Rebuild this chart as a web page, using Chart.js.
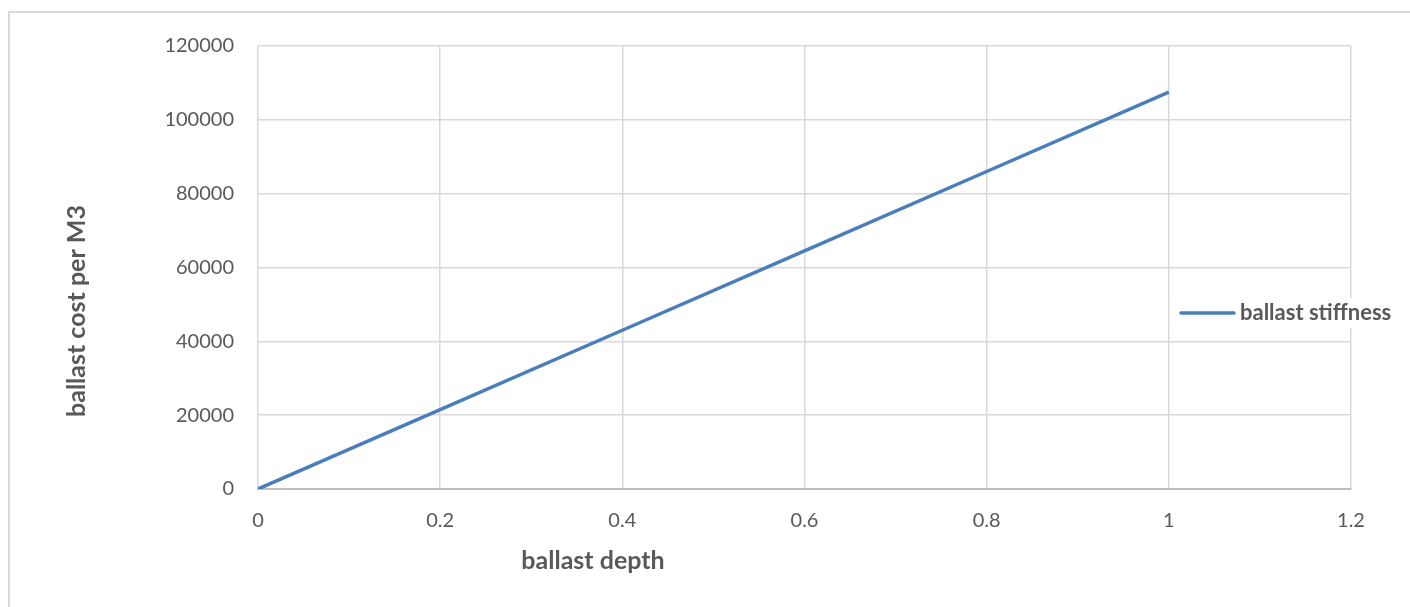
<!DOCTYPE html>
<html>
<head>
<meta charset="utf-8">
<script src="https://cdn.jsdelivr.net/npm/chart.js@4.4.1/dist/chart.umd.min.js"></script>
<style>
  html, body { margin: 0; padding: 0; background: #fff; }
  #wrap { position: relative; width: 1410px; height: 607px; }
</style>
</head>
<body>
<div id="wrap"><canvas id="chart" width="1410" height="607"></canvas></div>
<script>
(function () {
  'use strict';

  // --- Data ---
  var depth = [0, 0.2, 0.4, 0.6, 0.8, 1];
  var cost = [0, 21500, 43000, 64500, 86000, 107500];
  var seriesName = 'ballast stiffness';
  var xTitle = 'ballast depth';
  var yTitle = 'ballast cost per M3';

  var FONT = 'Lato, "Open Sans", sans-serif';
  var TEXT = '#595959';
  var GRID = '#d9d9d9';
  var LINE = '#4a7ebb';

  var points = depth.map(function (d, i) { return { x: d, y: cost[i] }; });

  // frame, axis titles and legend, drawn the way the spreadsheet places them
  var decor = {
    id: 'decor',
    beforeDraw: function (chart) {
      var c = chart.ctx;
      c.save();
      c.fillStyle = '#fff';
      c.fillRect(0, 0, chart.width, chart.height);
      c.strokeStyle = GRID;
      c.lineWidth = 2;
      c.beginPath();
      c.moveTo(9, chart.height);
      c.lineTo(9, 12);
      c.lineTo(chart.width, 12);
      c.stroke();
      c.restore();
    },
    afterDraw: function (chart) {
      var c = chart.ctx;
      c.save();
      c.fillStyle = TEXT;
      c.font = 'bold 25px ' + FONT;
      c.textAlign = 'center';
      c.textBaseline = 'middle';
      c.fillText(xTitle, 593, 561);

      c.save();
      c.translate(77, 311);
      c.rotate(-Math.PI / 2);
      c.fillText(yTitle, 0, 0);
      c.restore();

      // legend
      c.fillStyle = '#fff';
      c.fillRect(1176, 298, 228, 30);
      c.strokeStyle = LINE;
      c.lineWidth = 3.5;
      c.lineCap = 'round';
      c.beginPath();
      c.moveTo(1181, 313);
      c.lineTo(1234, 313);
      c.stroke();
      c.fillStyle = TEXT;
      c.font = 'bold 22px ' + FONT;
      c.textAlign = 'left';
      c.fillText(seriesName, 1240, 313);
      c.restore();
    }
  };

  new Chart(document.getElementById('chart'), {
    type: 'scatter',
    data: {
      datasets: [{
        label: seriesName,
        data: points,
        showLine: true,
        borderColor: LINE,
        backgroundColor: LINE,
        borderWidth: 3.5,
        pointRadius: 0,
        tension: 0
      }]
    },
    options: {
      responsive: false,
      animation: false,
      layout: { padding: { left: 0, right: 59, top: 46, bottom: 0 } },
      plugins: {
        legend: { display: false },
        tooltip: { enabled: false }
      },
      scales: {
        x: {
          type: 'linear',
          min: 0,
          max: 1.2,
          afterFit: function (s) { s.height = 118; },
          grid: { color: GRID, lineWidth: 1.5, drawTicks: false },
          border: { color: '#bfbfbf', width: 2 },
          ticks: {
            stepSize: 0.2,
            padding: 20,
            color: TEXT,
            font: { family: FONT, size: 20 },
            callback: function (v) { return String(Math.round(v * 10) / 10); }
          }
        },
        y: {
          min: 0,
          max: 120000,
          afterFit: function (s) { s.width = 258; },
          grid: { color: GRID, lineWidth: 1.5, drawTicks: false },
          border: { display: false },
          ticks: {
            stepSize: 20000,
            padding: 24,
            color: TEXT,
            font: { family: FONT, size: 20 },
            callback: function (v) { return String(v); }
          }
        }
      }
    },
    plugins: [decor]
  });
})();
</script>
</body>
</html>
